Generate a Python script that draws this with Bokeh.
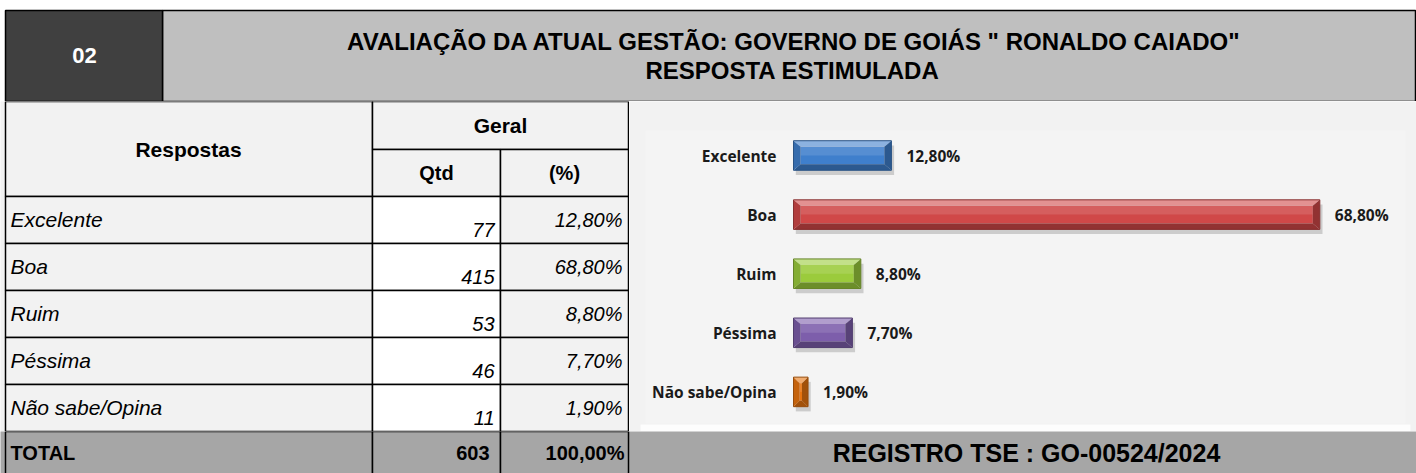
import numpy as np
from bokeh.plotting import figure
from bokeh.models import Range1d
from bokeh.layouts import column, row
from bokeh.embed import file_html
from bokeh.resources import INLINE
from bokeh.core.properties import value

# ---------------- data ----------------
section_number = "02"
title_lines = ['AVALIAÇÃO DA ATUAL GESTÃO: GOVERNO DE GOIÁS " RONALDO CAIADO"',
               "RESPOSTA ESTIMULADA"]
header_labels = ["Respostas", "Geral", "Qtd", "(%)"]
answers = ["Excelente", "Boa", "Ruim", "Péssima", "Não sabe/Opina"]
counts = [77, 415, 53, 46, 11]
percents = [12.8, 68.8, 8.8, 7.7, 1.9]
total_label = "TOTAL"
total_count = 603
total_percent = 100.0
registro = "REGISTRO TSE : GO-00524/2024"
bar_colors = ["#3F7FCC", "#D04848", "#9BCB3C", "#7D5EAB", "#E8740F"]


def fmt_pct(v):
    return f"{v:.2f}".replace(".", ",") + "%"


def mix(hex_color, other, t):
    a = [int(hex_color[i:i + 2], 16) for i in (1, 3, 5)]
    b = [int(other[i:i + 2], 16) for i in (1, 3, 5)]
    c = [round(x + (y - x) * t) for x, y in zip(a, b)]
    return "#%02x%02x%02x" % tuple(c)


FONT = value("Liberation Sans")
CFONT = value("Open Sans")
LEFT = 5
W = 1416


def panel(x0, x1, y0, y1, bg="white"):
    p = figure(width=x1 - x0, height=y1 - y0,
               x_range=Range1d(x0, x1), y_range=Range1d(y1, y0),
               toolbar_location=None, output_backend="svg", min_border=0,
               x_axis_location=None, y_axis_location=None,
               background_fill_color=bg, border_fill_color=bg,
               outline_line_color=None)
    p.grid.visible = False
    return p


# ---------------- header ----------------
h = panel(0, W, 0, 101)
h.quad(left=[162], right=[1415], top=[10], bottom=[101],
       fill_color="#BFBFBF", line_color="black", line_width=1.5)
h.quad(left=[LEFT], right=[162], top=[10], bottom=[101],
       fill_color="#404040", line_color="black", line_width=1.5)
h.text(x=[84], y=[55], text=[section_number], text_align="center",
       text_baseline="middle", text_color="white", text_font=FONT,
       text_font_style="bold", text_font_size="22px")
h.text(x=[794, 792], y=[40.5, 69.5], text=title_lines, text_align="center",
       text_baseline="middle", text_color="black", text_font=FONT,
       text_font_style="bold", text_font_size="24px")

# ---------------- table ----------------
t = panel(0, 629, 101, 431, bg="#F2F2F2")
n = len(answers)
row_h = 47
tops = 196 + row_h * np.arange(n)
bots = tops + row_h

# header cells
t.quad(left=[LEFT, 372, 372, 500], right=[372, 628, 500, 628],
       top=[101, 101, 149, 149], bottom=[196, 149, 196, 196],
       fill_color="#F2F2F2", line_color="black", line_width=1.5)
# data cells
t.quad(left=LEFT, right=372, top=tops, bottom=bots,
       fill_color="#F2F2F2", line_color="black", line_width=1.5)
t.quad(left=372, right=500, top=tops, bottom=bots,
       fill_color="white", line_color="black", line_width=1.5)
t.quad(left=500, right=628, top=tops, bottom=bots,
       fill_color="#F2F2F2", line_color="black", line_width=1.5)

t.text(x=[188, 500], y=[148.5, 124.5], text=header_labels[:2], text_align="center",
       text_baseline="middle", text_font=FONT, text_font_style="bold",
       text_font_size="21px", text_color="black")
t.text(x=[436, 564], y=[172.5, 172.5], text=header_labels[2:], text_align="center",
       text_baseline="middle", text_font=FONT, text_font_style="bold",
       text_font_size="20px", text_color="black")

t.text(x=10, y=tops + 23, text=answers, text_align="left",
       text_baseline="middle", text_font=FONT, text_font_style="italic",
       text_font_size="21px", text_color="black")
t.text(x=494, y=tops + 33, text=[str(c) for c in counts], text_align="right",
       text_baseline="middle", text_font=FONT, text_font_style="italic",
       text_font_size="20px", text_color="black")
t.text(x=622, y=tops + 23, text=[fmt_pct(v) for v in percents], text_align="right",
       text_baseline="middle", text_font=FONT, text_font_style="italic",
       text_font_size="20px", text_color="black")

# ---------------- chart ----------------
CX0, CX1, CY0, CY1 = 629, W, 101, 431
zero_px, px_per_pct = 793, 7.65
first_px, step_px = 155, 59.1
xr = Range1d((CX0 - zero_px) / px_per_pct, (CX1 - zero_px) / px_per_pct)
yr = Range1d(n - 1 + (CY1 - (first_px + (n - 1) * step_px)) / step_px,
             -(first_px - CY0) / step_px)
c = figure(width=CX1 - CX0, height=CY1 - CY0, x_range=xr, y_range=yr,
           toolbar_location=None, output_backend="svg", min_border=0,
           x_axis_location=None, y_axis_location=None,
           background_fill_color="#F2F2F2", border_fill_color="#F2F2F2",
           outline_line_color=None)
c.grid.visible = False


def cx(px):
    return (px - zero_px) / px_per_pct


def cy(px):
    return (px - first_px) / step_px


# subtle inner panel and its lower glow
c.quad(left=[cx(645)], right=[cx(1405)], top=[cy(130)], bottom=[cy(423)],
       fill_color="#F4F4F4", line_color=None)
c.quad(left=[cx(640)], right=[cx(1410)], top=[cy(424)], bottom=[cy(431)],
       fill_color="white", fill_alpha=0.8, line_color=None)

ys = np.arange(n)
vals = np.array(percents)
hh = 0.25
bx = 7 / px_per_pct
by = 6 / step_px

# shadow
c.quad(left=0.3, right=vals + 0.35, top=ys - hh + 0.08, bottom=ys + hh + 0.08,
       fill_color="black", fill_alpha=0.16, line_color=None)

face_l, face_r, face_t, face_b, face_c = [], [], [], [], []
pxs, pys, pcs = [], [], []
for y, v, col in zip(ys, vals, bar_colors):
    b = min(bx, v / 2.4)
    light = mix(col, "#FFFFFF", 0.4)
    dark = mix(col, "#000000", 0.3)
    mid = mix(col, "#000000", 0.15)
    face_l.append(b); face_r.append(v - b)
    face_t.append(y - hh + by); face_b.append(y + hh - by); face_c.append(col)
    pxs += [[0, v, v - b, b], [0, v, v - b, b], [0, b, b, 0], [v, v - b, v - b, v]]
    pys += [[y - hh, y - hh, y - hh + by, y - hh + by],
            [y + hh, y + hh, y + hh - by, y + hh - by],
            [y - hh, y - hh + by, y + hh - by, y + hh],
            [y - hh, y - hh + by, y + hh - by, y + hh]]
    pcs += [light, dark, mid, dark]

c.quad(left=face_l, right=face_r, top=face_t, bottom=face_b,
       fill_color=face_c, line_color=None)
c.quad(left=face_l, right=face_r, top=face_t,
       bottom=[(a + b2) / 2 for a, b2 in zip(face_t, face_b)],
       fill_color="white", fill_alpha=0.12, line_color=None)
c.patches(xs=pxs, ys=pys, fill_color=pcs, line_color=None)
c.quad(left=0, right=vals, top=ys - hh, bottom=ys + hh, fill_color=None,
       line_color=[mix(col, "#000000", 0.35) for col in bar_colors], line_width=1)

c.text(x=np.zeros(n), y=ys, text=answers, x_offset=-17, text_align="right",
       text_baseline="middle", text_font=CFONT, text_font_style="bold",
       text_font_size="15.5px", text_color="#1A1A1A")
c.text(x=vals, y=ys, text=[fmt_pct(v) for v in percents], x_offset=15,
       text_align="left", text_baseline="middle", text_font=CFONT,
       text_font_style="bold", text_font_size="15.5px", text_color="#1A1A1A")

# ---------------- bottom row ----------------
bt = panel(0, W, 431, 473, bg="#A6A6A6")
bt.quad(left=[LEFT, 372, 500], right=[372, 500, 628], top=431, bottom=490,
        fill_color="#A6A6A6", line_color="black", line_width=1.5)
bt.text(x=[10], y=[452], text=[total_label], text_align="left",
        text_baseline="middle", text_font=FONT, text_font_style="bold",
        text_font_size="20px", text_color="black")
bt.text(x=[489, 624], y=[452, 452],
        text=[str(total_count), fmt_pct(total_percent)], text_align="right",
        text_baseline="middle", text_font=FONT, text_font_style="bold",
        text_font_size="20px", text_color="black")
bt.text(x=[1026], y=[452], text=[registro], text_align="center",
        text_baseline="middle", text_font=FONT, text_font_style="bold",
        text_font_size="25px", text_color="black")

layout = column(h, row(t, c), bt)
open("out.html", "w").write(file_html(layout, INLINE))
